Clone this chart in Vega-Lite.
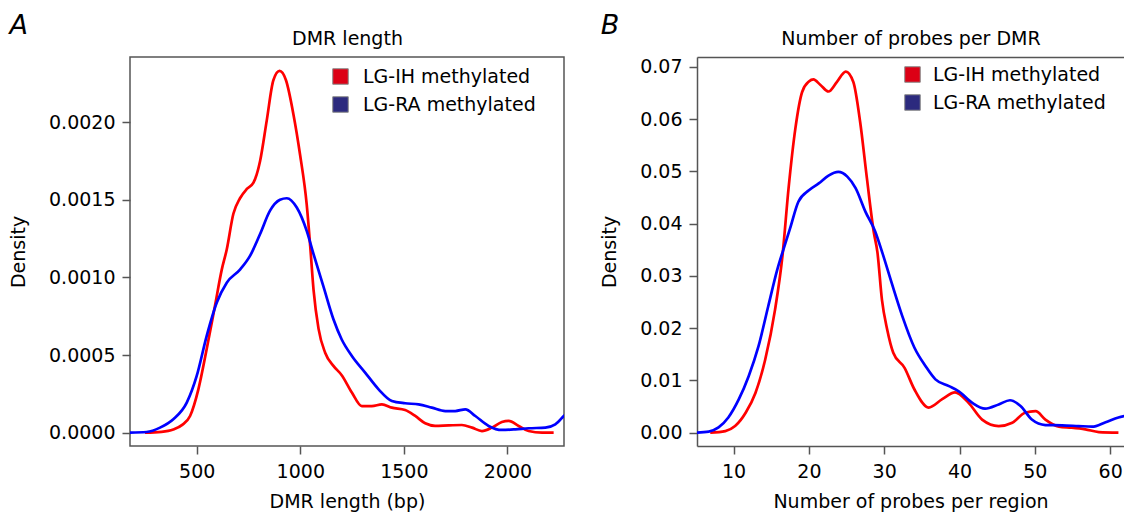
{
  "$schema": "https://vega.github.io/schema/vega-lite/v6.json",
  "background": "white",
  "padding": {"left": 8, "top": 11, "right": 0, "bottom": 0},
  "spacing": 28,
  "config": {
    "font": "DejaVu Sans",
    "view": {"stroke": "#555555", "strokeWidth": 1.5},
    "axis": {
      "domainColor": "#555555", "domainWidth": 1.5,
      "tickColor": "#555555", "tickWidth": 1.5, "tickSize": 8,
      "labelFont": "DejaVu Sans", "labelFontSize": 19, "labelColor": "#000000",
      "titleFont": "DejaVu Sans", "titleFontSize": 19, "titleFontWeight": "normal", "titleColor": "#000000",
      "grid": false, "labelFlush": false
    },
    "legend": {
      "labelFont": "DejaVu Sans", "labelFontSize": 19, "labelColor": "#000000", "labelLimit": 400
    }
  },
  "datasets": {
    "a": [
      {"g": "LG-IH methylated", "v": 250, "d": 0},
      {"g": "LG-IH methylated", "v": 330, "d": 0.000005},
      {"g": "LG-IH methylated", "v": 387, "d": 0.00002},
      {"g": "LG-IH methylated", "v": 430, "d": 0.00005},
      {"g": "LG-IH methylated", "v": 468, "d": 0.000107},
      {"g": "LG-IH methylated", "v": 508, "d": 0.000279},
      {"g": "LG-IH methylated", "v": 548, "d": 0.000537},
      {"g": "LG-IH methylated", "v": 588, "d": 0.000816},
      {"g": "LG-IH methylated", "v": 621, "d": 0.00105},
      {"g": "LG-IH methylated", "v": 645, "d": 0.00118},
      {"g": "LG-IH methylated", "v": 677, "d": 0.00141},
      {"g": "LG-IH methylated", "v": 709, "d": 0.00151},
      {"g": "LG-IH methylated", "v": 742, "d": 0.00157},
      {"g": "LG-IH methylated", "v": 774, "d": 0.00161},
      {"g": "LG-IH methylated", "v": 806, "d": 0.00175},
      {"g": "LG-IH methylated", "v": 838, "d": 0.00201},
      {"g": "LG-IH methylated", "v": 870, "d": 0.00227},
      {"g": "LG-IH methylated", "v": 900, "d": 0.00233},
      {"g": "LG-IH methylated", "v": 931, "d": 0.00227},
      {"g": "LG-IH methylated", "v": 967, "d": 0.00205},
      {"g": "LG-IH methylated", "v": 999, "d": 0.00179},
      {"g": "LG-IH methylated", "v": 1031, "d": 0.00147},
      {"g": "LG-IH methylated", "v": 1048, "d": 0.0012},
      {"g": "LG-IH methylated", "v": 1064, "d": 0.00092},
      {"g": "LG-IH methylated", "v": 1088, "d": 0.00067},
      {"g": "LG-IH methylated", "v": 1120, "d": 0.000515},
      {"g": "LG-IH methylated", "v": 1160, "d": 0.00043},
      {"g": "LG-IH methylated", "v": 1200, "d": 0.00037},
      {"g": "LG-IH methylated", "v": 1249, "d": 0.000258},
      {"g": "LG-IH methylated", "v": 1297, "d": 0.000171},
      {"g": "LG-IH methylated", "v": 1345, "d": 0.000171},
      {"g": "LG-IH methylated", "v": 1394, "d": 0.000182},
      {"g": "LG-IH methylated", "v": 1442, "d": 0.000161},
      {"g": "LG-IH methylated", "v": 1506, "d": 0.000146},
      {"g": "LG-IH methylated", "v": 1555, "d": 0.000107},
      {"g": "LG-IH methylated", "v": 1603, "d": 0.00006},
      {"g": "LG-IH methylated", "v": 1651, "d": 0.000043},
      {"g": "LG-IH methylated", "v": 1716, "d": 0.000047},
      {"g": "LG-IH methylated", "v": 1780, "d": 0.000049},
      {"g": "LG-IH methylated", "v": 1829, "d": 0.000032},
      {"g": "LG-IH methylated", "v": 1877, "d": 0.00001},
      {"g": "LG-IH methylated", "v": 1925, "d": 0.000032},
      {"g": "LG-IH methylated", "v": 1973, "d": 0.000068},
      {"g": "LG-IH methylated", "v": 2006, "d": 0.000075},
      {"g": "LG-IH methylated", "v": 2054, "d": 0.000043},
      {"g": "LG-IH methylated", "v": 2102, "d": 0.00001},
      {"g": "LG-IH methylated", "v": 2167, "d": 0},
      {"g": "LG-IH methylated", "v": 2223, "d": 0},
      {"g": "LG-RA methylated", "v": 178, "d": 0},
      {"g": "LG-RA methylated", "v": 258, "d": 0.000004},
      {"g": "LG-RA methylated", "v": 323, "d": 0.000032},
      {"g": "LG-RA methylated", "v": 387, "d": 0.000086},
      {"g": "LG-RA methylated", "v": 452, "d": 0.000193},
      {"g": "LG-RA methylated", "v": 500, "d": 0.000365},
      {"g": "LG-RA methylated", "v": 548, "d": 0.000622},
      {"g": "LG-RA methylated", "v": 597, "d": 0.000838},
      {"g": "LG-RA methylated", "v": 645, "d": 0.000966},
      {"g": "LG-RA methylated", "v": 709, "d": 0.00105},
      {"g": "LG-RA methylated", "v": 758, "d": 0.00114},
      {"g": "LG-RA methylated", "v": 806, "d": 0.00128},
      {"g": "LG-RA methylated", "v": 854, "d": 0.00143},
      {"g": "LG-RA methylated", "v": 902, "d": 0.0015},
      {"g": "LG-RA methylated", "v": 935, "d": 0.00151},
      {"g": "LG-RA methylated", "v": 983, "d": 0.00145},
      {"g": "LG-RA methylated", "v": 1031, "d": 0.0013},
      {"g": "LG-RA methylated", "v": 1064, "d": 0.00115},
      {"g": "LG-RA methylated", "v": 1112, "d": 0.00094},
      {"g": "LG-RA methylated", "v": 1160, "d": 0.00073},
      {"g": "LG-RA methylated", "v": 1200, "d": 0.0006},
      {"g": "LG-RA methylated", "v": 1249, "d": 0.000494},
      {"g": "LG-RA methylated", "v": 1313, "d": 0.000387},
      {"g": "LG-RA methylated", "v": 1378, "d": 0.000279},
      {"g": "LG-RA methylated", "v": 1442, "d": 0.000204},
      {"g": "LG-RA methylated", "v": 1506, "d": 0.000189},
      {"g": "LG-RA methylated", "v": 1571, "d": 0.000182},
      {"g": "LG-RA methylated", "v": 1635, "d": 0.000161},
      {"g": "LG-RA methylated", "v": 1700, "d": 0.000139},
      {"g": "LG-RA methylated", "v": 1748, "d": 0.000139},
      {"g": "LG-RA methylated", "v": 1797, "d": 0.00015},
      {"g": "LG-RA methylated", "v": 1845, "d": 0.000107},
      {"g": "LG-RA methylated", "v": 1909, "d": 0.000043},
      {"g": "LG-RA methylated", "v": 1973, "d": 0.000017},
      {"g": "LG-RA methylated", "v": 2038, "d": 0.000021},
      {"g": "LG-RA methylated", "v": 2102, "d": 0.000028},
      {"g": "LG-RA methylated", "v": 2183, "d": 0.000032},
      {"g": "LG-RA methylated", "v": 2231, "d": 0.000053},
      {"g": "LG-RA methylated", "v": 2272, "d": 0.000107},
      {"g": "LG-RA methylated", "v": 2290, "d": 0.00013}
    ],
    "b": [
      {"g": "LG-IH methylated", "v": 6.9, "d": 0},
      {"g": "LG-IH methylated", "v": 8.9, "d": 0.0003},
      {"g": "LG-IH methylated", "v": 10.2, "d": 0.00126},
      {"g": "LG-IH methylated", "v": 11.6, "d": 0.0038},
      {"g": "LG-IH methylated", "v": 12.9, "d": 0.0076},
      {"g": "LG-IH methylated", "v": 14.2, "d": 0.014},
      {"g": "LG-IH methylated", "v": 15.5, "d": 0.0235},
      {"g": "LG-IH methylated", "v": 16.5, "d": 0.034},
      {"g": "LG-IH methylated", "v": 17.3, "d": 0.0468},
      {"g": "LG-IH methylated", "v": 18.2, "d": 0.0582},
      {"g": "LG-IH methylated", "v": 19.1, "d": 0.0652},
      {"g": "LG-IH methylated", "v": 20.0, "d": 0.0672},
      {"g": "LG-IH methylated", "v": 20.6, "d": 0.0676},
      {"g": "LG-IH methylated", "v": 21.5, "d": 0.0666},
      {"g": "LG-IH methylated", "v": 22.6, "d": 0.0653},
      {"g": "LG-IH methylated", "v": 23.7, "d": 0.0671},
      {"g": "LG-IH methylated", "v": 24.9, "d": 0.0691},
      {"g": "LG-IH methylated", "v": 25.9, "d": 0.0671},
      {"g": "LG-IH methylated", "v": 26.8, "d": 0.0595},
      {"g": "LG-IH methylated", "v": 27.7, "d": 0.0487},
      {"g": "LG-IH methylated", "v": 28.6, "d": 0.0385},
      {"g": "LG-IH methylated", "v": 29.1, "d": 0.0345},
      {"g": "LG-IH methylated", "v": 29.7, "d": 0.0254},
      {"g": "LG-IH methylated", "v": 30.4, "d": 0.0197},
      {"g": "LG-IH methylated", "v": 31.2, "d": 0.0153},
      {"g": "LG-IH methylated", "v": 32.7, "d": 0.0124},
      {"g": "LG-IH methylated", "v": 34.0, "d": 0.0083},
      {"g": "LG-IH methylated", "v": 35.9, "d": 0.0048},
      {"g": "LG-IH methylated", "v": 37.7, "d": 0.0064},
      {"g": "LG-IH methylated", "v": 39.4, "d": 0.0077},
      {"g": "LG-IH methylated", "v": 41.2, "d": 0.0057},
      {"g": "LG-IH methylated", "v": 43.0, "d": 0.0025},
      {"g": "LG-IH methylated", "v": 45.2, "d": 0.00126},
      {"g": "LG-IH methylated", "v": 47.0, "d": 0.0019},
      {"g": "LG-IH methylated", "v": 48.7, "d": 0.0038},
      {"g": "LG-IH methylated", "v": 50.1, "d": 0.0041},
      {"g": "LG-IH methylated", "v": 51.4, "d": 0.0025},
      {"g": "LG-IH methylated", "v": 53.2, "d": 0.00115},
      {"g": "LG-IH methylated", "v": 54.9, "d": 0.00095},
      {"g": "LG-IH methylated", "v": 56.7, "d": 0.00063},
      {"g": "LG-IH methylated", "v": 58.5, "d": 0.00011},
      {"g": "LG-IH methylated", "v": 61.1, "d": 0},
      {"g": "LG-RA methylated", "v": 5.1, "d": 0},
      {"g": "LG-RA methylated", "v": 6.7, "d": 0.0002},
      {"g": "LG-RA methylated", "v": 8.0, "d": 0.001},
      {"g": "LG-RA methylated", "v": 9.3, "d": 0.0029},
      {"g": "LG-RA methylated", "v": 10.7, "d": 0.0064},
      {"g": "LG-RA methylated", "v": 12.0, "d": 0.0108},
      {"g": "LG-RA methylated", "v": 13.3, "d": 0.0165},
      {"g": "LG-RA methylated", "v": 14.6, "d": 0.0242},
      {"g": "LG-RA methylated", "v": 15.8, "d": 0.0312},
      {"g": "LG-RA methylated", "v": 16.6, "d": 0.035},
      {"g": "LG-RA methylated", "v": 17.5, "d": 0.0391},
      {"g": "LG-RA methylated", "v": 18.6, "d": 0.0442},
      {"g": "LG-RA methylated", "v": 20.0, "d": 0.0464},
      {"g": "LG-RA methylated", "v": 21.3, "d": 0.0477},
      {"g": "LG-RA methylated", "v": 22.6, "d": 0.0492},
      {"g": "LG-RA methylated", "v": 23.9, "d": 0.0499},
      {"g": "LG-RA methylated", "v": 25.1, "d": 0.049},
      {"g": "LG-RA methylated", "v": 26.2, "d": 0.0468},
      {"g": "LG-RA methylated", "v": 27.5, "d": 0.0423},
      {"g": "LG-RA methylated", "v": 28.8, "d": 0.0385},
      {"g": "LG-RA methylated", "v": 29.8, "d": 0.0342},
      {"g": "LG-RA methylated", "v": 31.0, "d": 0.0286},
      {"g": "LG-RA methylated", "v": 32.4, "d": 0.0223},
      {"g": "LG-RA methylated", "v": 34.0, "d": 0.0163},
      {"g": "LG-RA methylated", "v": 35.5, "d": 0.0127},
      {"g": "LG-RA methylated", "v": 36.8, "d": 0.0102},
      {"g": "LG-RA methylated", "v": 38.6, "d": 0.0089},
      {"g": "LG-RA methylated", "v": 39.9, "d": 0.0079},
      {"g": "LG-RA methylated", "v": 41.7, "d": 0.0057},
      {"g": "LG-RA methylated", "v": 43.4, "d": 0.0046},
      {"g": "LG-RA methylated", "v": 45.2, "d": 0.0054},
      {"g": "LG-RA methylated", "v": 46.7, "d": 0.0062},
      {"g": "LG-RA methylated", "v": 48.1, "d": 0.0051},
      {"g": "LG-RA methylated", "v": 49.6, "d": 0.0025},
      {"g": "LG-RA methylated", "v": 51.4, "d": 0.00145},
      {"g": "LG-RA methylated", "v": 53.6, "d": 0.0014},
      {"g": "LG-RA methylated", "v": 55.8, "d": 0.00126},
      {"g": "LG-RA methylated", "v": 57.6, "d": 0.00115},
      {"g": "LG-RA methylated", "v": 59.4, "d": 0.002},
      {"g": "LG-RA methylated", "v": 61.1, "d": 0.0029},
      {"g": "LG-RA methylated", "v": 61.9, "d": 0.0032}
    ]
  },
  "resolve": {"scale": {"stroke": "independent", "fill": "independent"}, "legend": {"stroke": "independent", "fill": "independent"}},
  "hconcat": [
    {
      "width": 434,
      "height": 389,
      "title": {"text": "A", "anchor": "start", "font": "DejaVu Sans", "fontSize": 27, "fontStyle": "italic", "fontWeight": "normal", "color": "#000000", "baseline": "alphabetic", "offset": -32},
      "resolve": {"axis": {"x": "independent"}},
      "layer": [
        {
          "mark": {"type": "rule", "color": "#eeeeee", "strokeWidth": 1},
          "encoding": {"y": {"datum": 0, "type": "quantitative"}}
        },
        {
          "data": {"name": "a"},
          "mark": {"type": "line", "strokeWidth": 2.7, "interpolate": "monotone", "clip": true},
          "encoding": {
            "x": {"field": "v", "type": "quantitative", "scale": {"domain": [178, 2273], "nice": false, "zero": false},
                  "axis": {"orient": "bottom", "values": [500, 1000, 1500, 2000], "format": "d", "domain": false, "labelPadding": 8, "title": "DMR length (bp)", "titlePadding": 11}},
            "y": {"field": "d", "type": "quantitative", "scale": {"domain": [-0.0000863, 0.00242], "nice": false, "zero": false},
                  "axis": {"values": [0, 0.0005, 0.001, 0.0015, 0.002], "format": ".4f", "domain": false, "labelPadding": 7, "title": "Density", "titlePadding": 20}},
            "stroke": {"field": "g", "type": "nominal", "scale": {"range": ["#ff0000", "#0000ff"]}, "legend": null}
          }
        },
        {
          "data": {"name": "a"},
          "mark": {"type": "square", "opacity": 0},
          "encoding": {
            "x": {"field": "v", "type": "quantitative",
                  "axis": {"orient": "top", "labels": false, "ticks": false, "domain": false, "title": "DMR length", "titlePadding": 13, "titleBaseline": "alphabetic"}},
            "y": {"field": "d", "type": "quantitative",
                  "axis": {"values": [0, 0.0005, 0.001, 0.0015, 0.002], "format": ".4f", "domain": false, "labelPadding": 7, "title": "Density", "titlePadding": 20}},
            "fill": {"field": "g", "type": "nominal", "scale": {"domain": ["LG-IH methylated", "LG-RA methylated"], "range": ["#dc0015", "#2c2a7e"]},
                     "legend": {"title": null, "orient": "none", "legendX": 201, "legendY": 10, "symbolType": "square", "symbolSize": 240, "symbolStrokeColor": "#888888", "symbolStrokeWidth": 1, "symbolOpacity": 1, "labelOffset": 13, "rowPadding": 7, "padding": 0}}
          }
        }
      ]
    },
    {
      "width": 427,
      "height": 389,
      "view": {"stroke": null},
      "title": {"text": "B", "anchor": "start", "font": "DejaVu Sans", "fontSize": 27, "fontStyle": "italic", "fontWeight": "normal", "color": "#000000", "baseline": "alphabetic", "offset": -32},
      "resolve": {"axis": {"x": "independent"}},
      "layer": [
        {
          "mark": {"type": "rule", "color": "#eeeeee", "strokeWidth": 1},
          "encoding": {"y": {"datum": 0, "type": "quantitative"}}
        },
        {
          "data": {"name": "b"},
          "mark": {"type": "line", "strokeWidth": 2.7, "interpolate": "monotone", "clip": true},
          "encoding": {
            "x": {"field": "v", "type": "quantitative", "scale": {"domain": [5.14, 61.84], "nice": false, "zero": false},
                  "axis": {"orient": "bottom", "values": [10, 20, 30, 40, 50, 60], "domain": true, "labelPadding": 8, "title": "Number of probes per region", "titlePadding": 11}},
            "y": {"field": "d", "type": "quantitative", "scale": {"domain": [-0.00256, 0.0719], "nice": false, "zero": false},
                  "axis": {"values": [0, 0.01, 0.02, 0.03, 0.04, 0.05, 0.06, 0.07], "format": ".2f", "domain": true, "labelPadding": 7, "title": "Density", "titlePadding": 20}},
            "stroke": {"field": "g", "type": "nominal", "scale": {"range": ["#ff0000", "#0000ff"]}, "legend": null}
          }
        },
        {
          "data": {"name": "b"},
          "mark": {"type": "square", "opacity": 0},
          "encoding": {
            "x": {"field": "v", "type": "quantitative",
                  "axis": {"orient": "top", "labels": false, "ticks": false, "domain": true, "title": "Number of probes per DMR", "titlePadding": 13, "titleBaseline": "alphabetic"}},
            "y": {"field": "d", "type": "quantitative",
                  "axis": {"values": [0, 0.01, 0.02, 0.03, 0.04, 0.05, 0.06, 0.07], "format": ".2f", "domain": true, "labelPadding": 7, "title": "Density", "titlePadding": 20}},
            "fill": {"field": "g", "type": "nominal", "scale": {"domain": ["LG-IH methylated", "LG-RA methylated"], "range": ["#dc0015", "#2c2a7e"]},
                     "legend": {"title": null, "orient": "none", "legendX": 206, "legendY": 8, "symbolType": "square", "symbolSize": 240, "symbolStrokeColor": "#888888", "symbolStrokeWidth": 1, "symbolOpacity": 1, "labelOffset": 11, "rowPadding": 7, "padding": 0}}
          }
        }
      ]
    }
  ]
}
